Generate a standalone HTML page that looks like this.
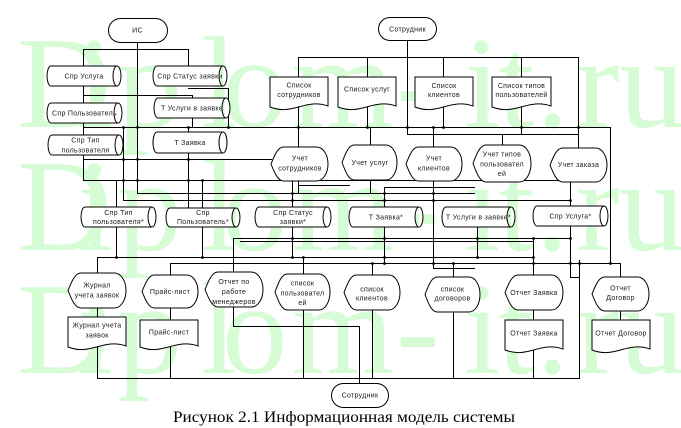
<!DOCTYPE html>
<html><head><meta charset="utf-8">
<style>
html,body{margin:0;padding:0;background:#fff;}
svg{display:block;}
.wm{font-family:"Liberation Serif","DejaVu Serif",serif;font-size:131px;fill:#d6fcd6;}
.ln{fill:none;stroke:#000;stroke-width:1;}
.sh{fill:#fff;stroke:#000;stroke-width:1;}
.t{font-family:"Liberation Sans","DejaVu Sans",sans-serif;font-size:7px;letter-spacing:0.3px;fill:#1a1a1a;text-anchor:middle;}
.cap{font-family:"Liberation Serif","DejaVu Serif",serif;font-size:16px;fill:#000;}
</style></head>
<body>
<svg width="681" height="428" viewBox="0 0 681 428" xmlns="http://www.w3.org/2000/svg">
<rect width="681" height="428" fill="#fff"/>
<!-- watermark -->
<text class="wm" x="17 77 117 201 222 292 396 464 498 536 576 619" y="127">Diplom-it.ru</text>
<text class="wm" x="17 77 117 201 222 292 396 464 498 536 576 619" y="250">Diplom-it.ru</text>
<text class="wm" x="17 77 117 201 222 292 396 464 498 536 576 619" y="373">Diplom-it.ru</text>

<!-- connector lines -->
<path class="ln" d="
M83 49.5 H188.5
M83 95.5 H192.5
M188 88.5 H228.5
M83 127.5 H610.5
M83 159.5 H272
M83 180.5 H578
M123 200.5 H570.5
M137 193.5 H475
M97 257.5 H533.5
M170 263.5 H620.5
M233 238.5 H570.5
M240 241.5 H533.5
M233 326.5 H359.5
M97 378.5 H580
M298 57.5 H578.5
M407 134.5 H578.5
M384 187.5 H475
M433 268.5 H475
M298 185.5 H350
M570 277.5 H579.5
M137.5 42 V193.5
M83.5 49 V180.5
M188.5 49 V66
M192.5 95 V127.5
M228.5 88 V127.5
M123.5 127 V200.5
M188.5 127 V208
M202.5 180 V257.5
M116.5 180 V257.5
M97.5 257 V378.5
M170.5 263 V378.5
M233.5 238 V326.5
M359.5 326 V383
M407.5 40 V134.5
M298.5 57 V147
M367.5 57 V127.5
M370.5 127 V145
M443.5 57 V127.5
M433.5 127 V147
M521.5 57 V134.5
M502.5 134 V145
M578.5 57 V148
M610.5 127 V263.5
M620.5 263 V277
M620.5 311 V320
M292.5 180 V257.5
M298.5 180 V193
M370.5 180 V193
M384.5 187 V263.5
M433.5 180 V268.5
M570.5 180 V277
M579.5 260 V378.5
M477.5 227 V257.5
M533.5 238 V378.5
M303.5 257 V378.5
M372.5 263 V378.5
M453.5 263 V378.5
"/>

<!-- junction dots -->
<g fill="#000">
<circle cx="137.5" cy="127.5" r="1.4"/><circle cx="123.5" cy="127.5" r="1.4"/><circle cx="188.5" cy="127.5" r="1.4"/><circle cx="228.5" cy="127.5" r="1.4"/>
<circle cx="298.5" cy="127.5" r="1.4"/><circle cx="367.5" cy="127.5" r="1.4"/><circle cx="407.5" cy="127.5" r="1.4"/><circle cx="433.5" cy="127.5" r="1.4"/>
<circle cx="443.5" cy="127.5" r="1.4"/><circle cx="521.5" cy="127.5" r="1.4"/><circle cx="578.5" cy="127.5" r="1.4"/>
<circle cx="123.5" cy="159.5" r="1.4"/><circle cx="137.5" cy="159.5" r="1.4"/><circle cx="188.5" cy="159.5" r="1.4"/>
<circle cx="123.5" cy="180.5" r="1.4"/><circle cx="137.5" cy="180.5" r="1.4"/><circle cx="188.5" cy="180.5" r="1.4"/><circle cx="202.5" cy="180.5" r="1.4"/>
<circle cx="292.5" cy="193.5" r="1.4"/><circle cx="292.5" cy="200.5" r="1.4"/><circle cx="384.5" cy="193.5" r="1.4"/><circle cx="384.5" cy="200.5" r="1.4"/>
<circle cx="433.5" cy="193.5" r="1.4"/><circle cx="433.5" cy="200.5" r="1.4"/><circle cx="570.5" cy="200.5" r="1.4"/>
<circle cx="116.5" cy="257.5" r="1.4"/><circle cx="202.5" cy="257.5" r="1.4"/><circle cx="292.5" cy="257.5" r="1.4"/><circle cx="303.5" cy="257.5" r="1.4"/>
<circle cx="384.5" cy="257.5" r="1.4"/><circle cx="477.5" cy="257.5" r="1.4"/><circle cx="533.5" cy="257.5" r="1.4"/>
<circle cx="292.5" cy="238.5" r="1.4"/><circle cx="384.5" cy="238.5" r="1.4"/><circle cx="477.5" cy="238.5" r="1.4"/><circle cx="533.5" cy="238.5" r="1.4"/><circle cx="570.5" cy="238.5" r="1.4"/>
<circle cx="372.5" cy="263.5" r="1.4"/><circle cx="384.5" cy="263.5" r="1.4"/><circle cx="433.5" cy="263.5" r="1.4"/><circle cx="453.5" cy="263.5" r="1.4"/>
<circle cx="533.5" cy="263.5" r="1.4"/><circle cx="570.5" cy="263.5" r="1.4"/><circle cx="579.5" cy="263.5" r="1.4"/><circle cx="610.5" cy="263.5" r="1.4"/>
</g>

<!-- terminators -->
<rect class="sh" x="108.5" y="18.5" width="59" height="24" rx="12"/>
<text class="t" x="137.5" y="32.5">ИС</text>
<rect class="sh" x="378.5" y="17.5" width="58" height="23" rx="11.5"/>
<text class="t" x="407.5" y="31.5">Сотрудник</text>
<rect class="sh" x="331.5" y="383.5" width="57" height="24" rx="12"/>
<text class="t" x="360" y="397.5">Сотрудник</text>

<!-- cylinders -->
<path class="sh" d="M51 66 H117 A4 10 0 0 1 117 86 H51 A4 10 0 0 1 51 66 Z M117 66 A4 10 0 0 0 117 86"/>
<text class="t" x="84" y="78.5">Спр  Услуга</text>
<path class="sh" d="M157 66 H223 A4 10 0 0 1 223 86 H157 A4 10 0 0 1 157 66 Z M223 66 A4 10 0 0 0 223 86"/>
<text class="t" x="190" y="78.5">Спр  Статус заявки</text>
<path class="sh" d="M51 103 H118 A4 10 0 0 1 118 123 H51 A4 10 0 0 1 51 103 Z M118 103 A4 10 0 0 0 118 123"/>
<text class="t" x="84.5" y="115.5">Спр Пользователь</text>
<path class="sh" d="M158 98 H226 A4 10 0 0 1 226 118 H158 A4 10 0 0 1 158 98 Z M226 98 A4 10 0 0 0 226 118"/>
<text class="t" x="192" y="110.5">Т Услуги в заявке</text>
<path class="sh" d="M52 135 H119 A4 10 0 0 1 119 155 H52 A4 10 0 0 1 52 135 Z M119 135 A4 10 0 0 0 119 155"/>
<text class="t" x="85.5" y="142.5">Спр Тип</text>
<text class="t" x="85.5" y="152.5">пользователя</text>
<path class="sh" d="M157 132 H223 A4 10.5 0 0 1 223 153 H157 A4 10.5 0 0 1 157 132 Z M223 132 A4 10.5 0 0 0 223 153"/>
<text class="t" x="190" y="145">Т Заявка</text>

<path class="sh" d="M85 207 H152 A4 10 0 0 1 152 227 H85 A4 10 0 0 1 85 207 Z M152 207 A4 10 0 0 0 152 227"/>
<text class="t" x="118.5" y="215">Спр Тип</text>
<text class="t" x="118.5" y="224">пользователя*</text>
<path class="sh" d="M170 208 H236 A4 9.5 0 0 1 236 227 H170 A4 9.5 0 0 1 170 208 Z M236 208 A4 9.5 0 0 0 236 227"/>
<text class="t" x="203" y="215">Спр</text>
<text class="t" x="203" y="224">Пользователь*</text>
<path class="sh" d="M259 207 H327 A4 10 0 0 1 327 227 H259 A4 10 0 0 1 259 207 Z M327 207 A4 10 0 0 0 327 227"/>
<text class="t" x="293" y="215">Спр Статус</text>
<text class="t" x="293" y="224">заявки*</text>
<path class="sh" d="M353 207 H419 A4 10 0 0 1 419 227 H353 A4 10 0 0 1 353 207 Z M419 207 A4 10 0 0 0 419 227"/>
<text class="t" x="386" y="219.5">Т Заявка*</text>
<path class="sh" d="M446 207 H511 A4 10 0 0 1 511 227 H446 A4 10 0 0 1 446 207 Z M511 207 A4 10 0 0 0 511 227"/>
<text class="t" x="478.5" y="219.5">Т Услуги в заявке*</text>
<path class="sh" d="M537 206 H604 A4 10 0 0 1 604 226 H537 A4 10 0 0 1 537 206 Z M604 206 A4 10 0 0 0 604 226"/>
<text class="t" x="570.5" y="218.5">Спр Услуга*</text>

<!-- documents -->
<path class="sh" d="M270 77 H328 V106 C304.8 98 293.2 116 270 107 Z"/>
<text class="t" x="299" y="87.5">Список</text>
<text class="t" x="299" y="97">сотрудников</text>
<path class="sh" d="M338 77 H396 V106 C372.8 98 361.2 116 338 107 Z"/>
<text class="t" x="367" y="91.5">Список услуг</text>
<path class="sh" d="M415 77 H473 V106 C449.8 98 438.2 116 415 107 Z"/>
<text class="t" x="444" y="88">Список</text>
<text class="t" x="444" y="97">клиентов</text>
<path class="sh" d="M492 77 H551 V106 C527.4 98 515.6 116 492 107 Z"/>
<text class="t" x="521.5" y="88">Список типов</text>
<text class="t" x="521.5" y="97">пользователей</text>

<path class="sh" d="M68 317 H126 V346 C102.8 338 91.2 356 68 347 Z"/>
<text class="t" x="97" y="327.5">Журнал учета</text>
<text class="t" x="97" y="337.5">заявок</text>
<path class="sh" d="M140 320 H198 V346 C174.8 338 163.2 356 140 347 Z"/>
<text class="t" x="169" y="334.5">Прайс-лист</text>
<path class="sh" d="M505 320 H563 V349 C539.8 341 528.2 359 505 350 Z"/>
<text class="t" x="534" y="335.5">Отчет Заявка</text>
<path class="sh" d="M592 320 H650 V349 C626.8 341 615.2 359 592 350 Z"/>
<text class="t" x="621" y="335.5">Отчет Договор</text>

<!-- display shapes row 1 -->
<path class="sh" d="M271 164 C274.4 155.5 277.8 147 283.5 147 H316.6 A11.4 17 0 0 1 316.6 181 H283.5 C277.8 181 274.4 172.5 271 164 Z"/>
<text class="t" x="300" y="160.5">Учет</text>
<text class="t" x="300" y="170.5">сотрудников</text>
<path class="sh" d="M342 162.5 C345.3 153.75 348.6 145 354.1 145 H386 A11 17.5 0 0 1 386 180 H354.1 C348.6 180 345.3 171.25 342 162.5 Z"/>
<text class="t" x="370" y="165">Учет услуг</text>
<path class="sh" d="M406 164 C409.4 155.5 412.7 147 418.3 147 H450.8 A11.2 17 0 0 1 450.8 181 H418.3 C412.7 181 409.4 172.5 406 164 Z"/>
<text class="t" x="434" y="160.5">Учет</text>
<text class="t" x="434" y="170.5">клиентов</text>
<path class="sh" d="M473 163.5 C476.5 154.25 480 145 485.8 145 H519.4 A11.6 18.5 0 0 1 519.4 182 H485.8 C480 182 476.5 172.75 473 163.5 Z"/>
<text class="t" x="502" y="156.5">Учет типов</text>
<text class="t" x="502" y="166.5">пользовател</text>
<text class="t" x="502" y="176">ей</text>
<path class="sh" d="M550 165 C553.4 156.5 556.8 148 562.5 148 H595.6 A11.4 17 0 0 1 595.6 182 H562.5 C556.8 182 553.4 173.5 550 165 Z"/>
<text class="t" x="578.5" y="167">Учет заказа</text>

<!-- display shapes row 2 -->
<path class="sh" d="M68 290.5 C71.5 281.75 75 273 80.8 273 H114.4 A11.6 17.5 0 0 1 114.4 308 H80.8 C75 308 71.5 299.25 68 290.5 Z"/>
<text class="t" x="97" y="287.5">Журнал</text>
<text class="t" x="97" y="297.5">учета заявок</text>
<path class="sh" d="M142 291.5 C145.4 283.25 148.7 275 154.3 275 H186.8 A11.2 16.5 0 0 1 186.8 308 H154.3 C148.7 308 145.4 299.75 142 291.5 Z"/>
<text class="t" x="170" y="294">Прайс-лист</text>
<path class="sh" d="M205 289.5 C208.5 280.75 212 272 217.8 272 H251.4 A11.6 17.5 0 0 1 251.4 307 H217.8 C212 307 208.5 298.25 205 289.5 Z"/>
<text class="t" x="234" y="284">Отчет по</text>
<text class="t" x="234" y="294">работе</text>
<text class="t" x="234" y="304">менеджеров</text>
<path class="sh" d="M275 292 C278.3 283 281.6 274 287.1 274 H319 A11 18 0 0 1 319 310 H287.1 C281.6 310 278.3 301 275 292 Z"/>
<text class="t" x="302.5" y="285.5">список</text>
<text class="t" x="302.5" y="295.5">пользовател</text>
<text class="t" x="302.5" y="305">ей</text>
<path class="sh" d="M344 292.5 C347.4 283.75 350.7 275 356.3 275 H388.8 A11.2 17.5 0 0 1 388.8 310 H356.3 C350.7 310 347.4 301.25 344 292.5 Z"/>
<text class="t" x="372" y="291.5">список</text>
<text class="t" x="372" y="300.5">клиентов</text>
<path class="sh" d="M425 294.5 C428.3 285.75 431.6 277 437.1 277 H469 A11 17.5 0 0 1 469 312 H437.1 C431.6 312 428.3 303.25 425 294.5 Z"/>
<text class="t" x="452.5" y="291.5">список</text>
<text class="t" x="452.5" y="300.5">договоров</text>
<path class="sh" d="M505 292.5 C508.5 283.75 512 275 517.8 275 H551.4 A11.6 17.5 0 0 1 551.4 310 H517.8 C512 310 508.5 301.25 505 292.5 Z"/>
<text class="t" x="534" y="295">Отчет Заявка</text>
<path class="sh" d="M592 294 C595.4 285.5 598.8 277 604.5 277 H637.6 A11.4 17 0 0 1 637.6 311 H604.5 C598.8 311 595.4 302.5 592 294 Z"/>
<text class="t" x="620.5" y="290.5">Отчет</text>
<text class="t" x="620.5" y="300">Договор</text>

<!-- caption -->
<text class="cap" x="173" y="422" textLength="342" lengthAdjust="spacingAndGlyphs">Рисунок 2.1 Информационная модель системы</text>
</svg>
</body></html>
